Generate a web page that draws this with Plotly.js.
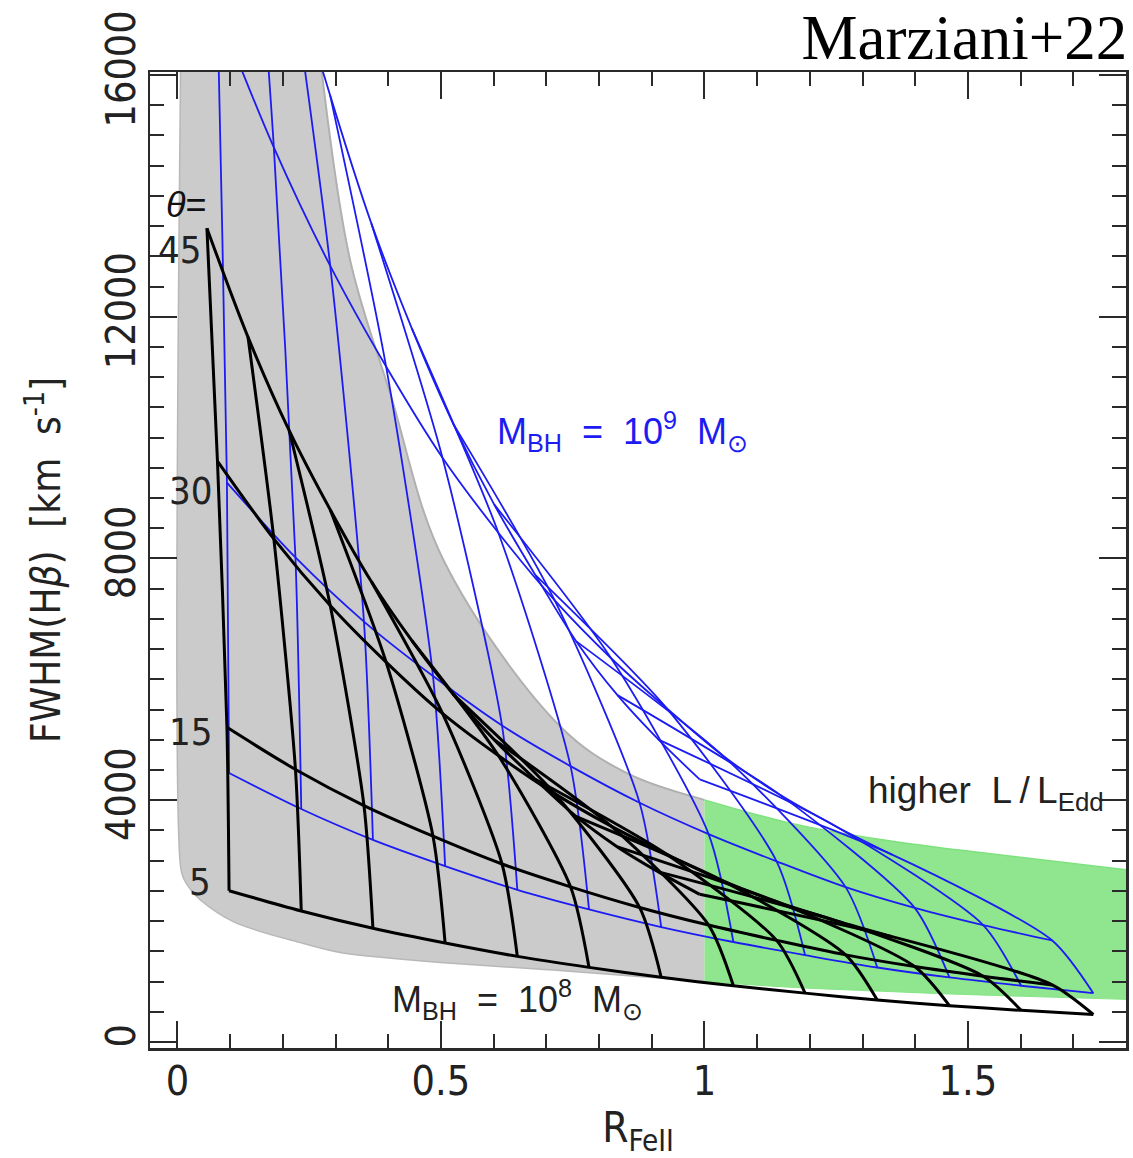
<!DOCTYPE html>
<html>
<head>
<meta charset="utf-8">
<script src="https://cdn.plot.ly/plotly-3.0.1.min.js"></script>
<style>html,body{margin:0;padding:0;background:#fff;}#chart{width:1133px;height:1158px;}</style>
</head>
<body>
<div id="chart"></div>
<script>
// ---- Data ----
// Viewing angles of the model grid
const thetaLevels = [5, 15, 30, 45];

// R_FeII of the 13 grid columns (increasing L/LEdd) at each viewing angle
const rFe5  = [0.098, 0.235, 0.371, 0.508, 0.645, 0.781, 0.918, 1.055, 1.191, 1.328, 1.465, 1.601, 1.738];
const rFe15 = [0.094, 0.224, 0.354, 0.485, 0.616, 0.746, 0.877, 1.008, 1.137, 1.268, 1.399, 1.529, 1.660];
const rFe30 = [0.076, 0.183, 0.290, 0.396, 0.503, 0.609, 0.716, 0.823, 0.929, 1.036, 1.142, 1.249, 1.356];
const rFe45 = [0.056, 0.134, 0.212, 0.290, 0.368, 0.445, 0.523, 0.601, 0.679, 0.757, 0.835, 0.913, 0.991];

// FWHM(Hbeta) for M_BH = 1e8 Msun (black grid)
const fwhm8_5  = [2503, 2168, 1881, 1637, 1416, 1234, 1070, 930, 808, 693, 600, 523, 454];
const fwhm8_15 = [5206, 4509, 3912, 3405, 2945, 2567, 2226, 1934, 1681, 1441, 1248, 1088, 944];
const fwhm8_30 = [9612, 8325, 7223, 6286, 5437, 4739, 4109, 3571, 3103, 2661, 2304, 2008, 1743];
const fwhm8_45 = [13466, 11664, 10120, 8807, 7618, 6639, 5757, 5003, 4347, 3728, 3228, 2814, 2443];

// FWHM(Hbeta) for M_BH = 1e9 Msun (blue grid)
const fwhm9_5  = [4450, 3855, 3344, 2911, 2518, 2194, 1902, 1654, 1437, 1232, 1067, 930, 807];
const fwhm9_15 = [9256, 8017, 6956, 6054, 5236, 4564, 3958, 3439, 2989, 2562, 2219, 1934, 1679];
const fwhm9_30 = [17090, 14802, 12842, 11176, 9667, 8426, 7306, 6349, 5517, 4731, 4097, 3570, 3099];
const fwhm9_45 = [23943, 20739, 17993, 15659, 13545, 11804, 10236, 8895, 7729, 6628, 5739, 5003, 4344];

// Gray region: left edge + lower boundary, and upper boundary
const grayLowX = [0.006, 0.006, 0.012, 0.025, 0.043, 0.106, 0.233, 0.309, 0.391, 0.499, 0.713, 1.0];
const grayLowY = [16050, 2900, 2700, 2520, 2354, 1991, 1644, 1479, 1396, 1313, 1190, 1000];
const grayTopX = [0.274, 0.328, 0.404, 0.505, 0.727, 0.853, 1.0];
const grayTopY = [16050, 12927, 10725, 7971, 5217, 4447, 4006];

// Green region (R_FeII > 1): lower and upper boundaries
const greenLowX = [1.0, 1.163, 1.334, 1.48, 1.8];
const greenLowY = [1000, 905, 840, 790, 705];
const greenTopX = [1.0, 1.163, 1.334, 1.48, 1.8];
const greenTopY = [4006, 3621, 3350, 3180, 2850];

// Axis ticks
const xTickVals = [0, 0.5, 1, 1.5];
const xTickText = ['0', '0.5', '1', '1.5'];
const yTickVals = [0, 4000, 8000, 12000, 16000];
const yTickText = ['0', '4000', '8000', '12000', '16000'];

// ---- Build traces ----
const rByTheta = [rFe5, rFe15, rFe30, rFe45];
const f8ByTheta = [fwhm8_5, fwhm8_15, fwhm8_30, fwhm8_45];
const f9ByTheta = [fwhm9_5, fwhm9_15, fwhm9_30, fwhm9_45];

const BLUE = '#1c1cf2';
const traces = [];

traces.push({type:'scatter', mode:'lines', x:grayLowX, y:grayLowY,
  line:{color:'#b8b8b8', width:1.5, shape:'spline', smoothing:1}, hoverinfo:'skip'});
traces.push({type:'scatter', mode:'lines', x:grayTopX, y:grayTopY, fill:'tonexty', fillcolor:'#cbcbcb',
  line:{color:'#b0b0b0', width:2, shape:'spline', smoothing:1}, hoverinfo:'skip'});
traces.push({type:'scatter', mode:'lines', x:greenLowX, y:greenLowY,
  line:{color:'#86e586', width:1, shape:'spline', smoothing:1}, hoverinfo:'skip'});
traces.push({type:'scatter', mode:'lines', x:greenTopX, y:greenTopY, fill:'tonexty', fillcolor:'#8fe68f',
  line:{color:'#7de27d', width:1.5, shape:'spline', smoothing:1}, hoverinfo:'skip'});

function addGrid(fByTheta, color, width) {
  // constant-theta curves
  thetaLevels.forEach((th, k) => {
    traces.push({type:'scatter', mode:'lines', x:rByTheta[k], y:fByTheta[k],
      line:{color:color, width:width, shape:'spline', smoothing:0.9}, hoverinfo:'skip', name:'θ='+th});
  });
  // constant-L/LEdd columns
  for (let j = 0; j < rFe5.length; j++) {
    traces.push({type:'scatter', mode:'lines',
      x: rByTheta.map(a => a[j]), y: fByTheta.map(a => a[j]),
      line:{color:color, width:width, shape:'spline', smoothing:0.7}, hoverinfo:'skip'});
  }
}
addGrid(f9ByTheta, BLUE, 1.8);
addGrid(f8ByTheta, '#000000', 3);

const NARROW = '"Liberation Sans Narrow", "Arial Narrow", "DejaVu Sans Condensed", "Liberation Sans", Arial, sans-serif';
const SANS = '"Liberation Sans", Arial, sans-serif';
const AX = '#2a2a2a';

const layout = {
  width:1133, height:1158,
  margin:{l:150, r:7, t:72, b:110},
  paper_bgcolor:'#ffffff', plot_bgcolor:'#ffffff',
  showlegend:false,
  title:{text:'Marziani+22', font:{family:'"Liberation Serif", "Times New Roman", serif', size:63, color:'#000'},
    x:0.995, xanchor:'right', xref:'container', y:0.968, yanchor:'middle', yref:'container'},
  xaxis:{range:[-0.052, 1.8], tickmode:'array', tickvals:xTickVals, ticktext:xTickText,
    ticks:'inside', ticklen:27, tickwidth:2, tickcolor:AX,
    showline:true, linewidth:2.5, linecolor:AX, mirror:'allticks', showgrid:false, zeroline:false,
    minor:{dtick:0.1, tick0:0, ticks:'inside', ticklen:14, tickwidth:2, tickcolor:AX, showgrid:false},
    tickfont:{family:NARROW, size:41, color:'#222'}, ticklabelstandoff:-5,
    title:{text:'R<sub>FeII</sub>', font:{family:NARROW, size:42, color:'#222'}, standoff:37}},
  yaxis:{range:[-100, 16050], tickmode:'array', tickvals:yTickVals, ticktext:yTickText,
    ticks:'inside', ticklen:27, tickwidth:2, tickcolor:AX,
    showline:true, linewidth:2.5, linecolor:AX, mirror:'allticks', showgrid:false, zeroline:false,
    minor:{dtick:500, tick0:0, ticks:'inside', ticklen:14, tickwidth:2, tickcolor:AX, showgrid:false},
    tickfont:{family:NARROW, size:41, color:'#222'}, tickangle:-90, ticklabelstandoff:-4,
    title:{text:'FWHM(H<i>β</i>)  [km  s<sup>-1</sup>]', font:{family:NARROW, size:40, color:'#222'}, standoff:24}},
  annotations:[
    {x:0.018, y:13850, text:'<i>θ</i>=', showarrow:false, font:{family:SANS, size:36, color:'#111'}, xanchor:'center', yanchor:'middle'},
    {x:0.005, y:13100, text:'45', showarrow:false, font:{family:NARROW, size:38, color:'#222'}, xanchor:'center', yanchor:'middle'},
    {x:0.026, y:9111, text:'30', showarrow:false, font:{family:NARROW, size:38, color:'#222'}, xanchor:'center', yanchor:'middle'},
    {x:0.026, y:5130, text:'15', showarrow:false, font:{family:NARROW, size:38, color:'#222'}, xanchor:'center', yanchor:'middle'},
    {x:0.043, y:2652, text:'5', showarrow:false, font:{family:NARROW, size:38, color:'#222'}, xanchor:'center', yanchor:'middle'},
    {x:0.603, y:10100, text:'M<sub>BH</sub>  =  10<sup>9</sup>  M<sub>⊙</sub>', showarrow:false, font:{family:SANS, size:36, color:BLUE}, xanchor:'left', yanchor:'middle'},
    {x:0.404, y:700, text:'M<sub>BH</sub>  =  10<sup>8</sup>  M<sub>⊙</sub>', showarrow:false, font:{family:SANS, size:36, color:'#222'}, xanchor:'left', yanchor:'middle'},
    {x:1.306, y:4120, text:'higher  L\u2009/\u2009L<sub>Edd</sub>', showarrow:false, font:{family:SANS, size:37, color:'#222'}, xanchor:'left', yanchor:'middle'}
  ]
};

Plotly.newPlot('chart', traces, layout, {staticPlot:true, displayModeBar:false});
</script>
</body>
</html>
